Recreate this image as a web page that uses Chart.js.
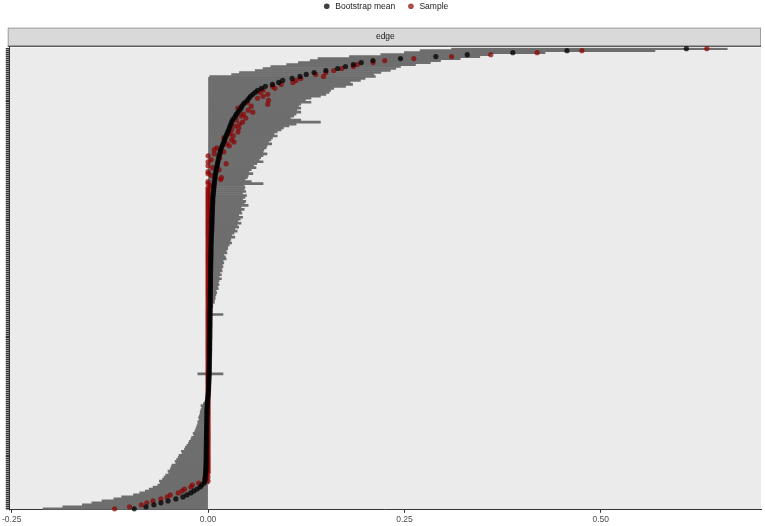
<!DOCTYPE html>
<html>
<head>
<meta charset="utf-8">
<script src="https://cdn.jsdelivr.net/npm/chart.js@4.4.0/dist/chart.umd.min.js"></script>
<style>
  html, body { margin: 0; padding: 0; background: #fff; }
</style>
</head>
<body>
<canvas id="chart" width="765" height="526"></canvas>
<script>
// edges sorted by bootstrap mean, largest at the top
const meanVals = [
  0.609, 0.457, 0.388, 0.33, 0.29, 0.245, 0.21, 0.195, 0.185, 0.175,
  0.165, 0.15, 0.135, 0.125, 0.117, 0.107, 0.095, 0.09, 0.082, 0.073,
  0.068, 0.063, 0.06, 0.057, 0.054, 0.052, 0.05, 0.047, 0.045, 0.043,
  0.042, 0.04, 0.038, 0.036, 0.035, 0.033, 0.031, 0.03, 0.029, 0.028,
  0.027, 0.026, 0.025, 0.024, 0.023, 0.022, 0.021, 0.02, 0.019, 0.018,
  0.017, 0.016, 0.0155, 0.015, 0.014, 0.0135, 0.013, 0.0125, 0.012, 0.0115,
  0.011, 0.0105, 0.01, 0.0095, 0.009, 0.009, 0.0085, 0.008, 0.008, 0.0075,
  0.0075, 0.007, 0.007, 0.0065, 0.0065, 0.006, 0.006, 0.006, 0.0058, 0.0057,
  0.0056, 0.0055, 0.0054, 0.0053, 0.0052, 0.0051, 0.005, 0.005, 0.0049, 0.0048,
  0.0047, 0.0046, 0.0045, 0.0044, 0.0043, 0.0042, 0.0041, 0.004, 0.004, 0.0039,
  0.0038, 0.0038, 0.0037, 0.0037, 0.0036, 0.0036, 0.0035, 0.0035, 0.0034, 0.0034,
  0.0033, 0.0033, 0.0033, 0.0032, 0.0032, 0.0032, 0.0031, 0.0031, 0.0031, 0.003,
  0.003, 0.003, 0.0029, 0.0029, 0.0029, 0.0028, 0.0028, 0.0028, 0.0027, 0.0027,
  0.0027, 0.0026, 0.0026, 0.0026, 0.0025, 0.0025, 0.0025, 0.0024, 0.0024, 0.0024,
  0.0024, 0.0023, 0.0023, 0.0023, 0.0022, 0.0022, 0.0022, 0.0021, 0.0021, 0.0021,
  0.002, 0.002, 0.002, 0.0019, 0.0019, 0.0019, 0.0018, 0.0018, 0.0017, 0.0017,
  0.0016, 0.0016, 0.0015, 0.0015, 0.0014, 0.0013, 0.0012, 0.0011, 0.001, 0.0009,
  0.0008, 0.0007, 0.0006, 0.0004, 0.0002, 0, -0.0003, -0.0006, -0.0009, -0.0011,
  -0.0012, -0.0013, -0.0014, -0.0015, -0.0015, -0.0016, -0.0016, -0.0017, -0.0017, -0.0018,
  -0.0018, -0.0019, -0.0019, -0.002, -0.002, -0.002, -0.0021, -0.0021, -0.0021, -0.0022,
  -0.0022, -0.0022, -0.0023, -0.0023, -0.0023, -0.0024, -0.0024, -0.0024, -0.0025, -0.0025,
  -0.0026, -0.0027, -0.0028, -0.003, -0.0032, -0.0034, -0.0036, -0.0038, -0.004, -0.005,
  -0.008, -0.01, -0.014, -0.018, -0.022, -0.027, -0.032, -0.041, -0.051, -0.06,
  -0.069, -0.079, -0.094
];

const sampleVals = [
  0.635, 0.476, 0.419, 0.36, 0.31, 0.262, 0.225, 0.21, 0.19, 0.185,
  0.17, 0.16, 0.15, 0.137, 0.147, 0.118, 0.112, 0.108, 0.093, 0.082,
  0.085, 0.07, 0.066, 0.076, 0.07, 0.063, 0.077, 0.05, 0.076, 0.055,
  0.038, 0.051, 0.057, 0.045, 0.042, 0.048, 0.036, 0.044, 0.04, 0.034,
  0.039, 0.03, 0.038, 0.028, 0.032, 0.02, 0.03, 0.033, 0.024, 0.027,
  0.011, 0.008, 0.02, 0.008, 0, 0.015, 0.004, 0, 0.023, 0,
  0.006, 0.014, 0, 0, 0.004, 0.017, 0.016, 0, 0, 0.003,
  0, 0, 0, 0, 0, 0, 0, 0, 0, 0,
  0, 0, 0, 0, 0, 0, 0, 0, 0, 0,
  0, 0, 0, 0, 0, 0, 0, 0, 0, 0,
  0, 0, 0, 0, 0, 0, 0, 0, 0, 0,
  0, 0, 0, 0, 0, 0, 0, 0, 0, 0,
  0, 0, 0, 0, 0, 0, 0, 0, 0, 0,
  0, 0, 0, 0, 0, 0, 0, 0, 0, 0,
  0, 0, 0, 0, 0, 0, 0, 0, 0, 0,
  0, 0, 0, 0, 0, 0, 0, 0, 0, 0,
  0, 0, 0, 0, 0, 0, 0, 0, 0, 0,
  0, 0, 0, 0, 0, 0, 0, 0, 0, 0,
  0, 0, 0, 0, 0, 0, 0, 0, 0, 0,
  0, 0, 0, 0, 0, 0, 0, 0, 0, 0,
  0, 0, 0, 0, 0, 0, 0, 0, 0, 0,
  0, 0, 0, 0, 0, -0.002, 0, -0.004, 0, -0.012,
  -0.02, -0.022, -0.03, -0.033, -0.038, -0.048, -0.052, -0.06, -0.07, -0.078,
  -0.085, -0.1, -0.119
];

// bootstrap quantile interval per edge
const loVals = [
  0.31, 0.27, 0.25, 0.22, 0.18, 0.14, 0.13, 0.115, 0.1, 0.08,
  0.07, 0.06, 0.04, 0.03, 0.002, 0, 0, 0, 0, 0,
  0, 0, 0, 0, 0, 0, 0, 0, 0, 0,
  0, 0, 0, 0, 0, 0, 0, 0, 0, 0,
  0, 0, 0, 0, 0, 0, 0, 0, 0, 0,
  0, 0, 0, 0, 0, 0, 0, 0, 0, 0,
  0, 0, 0, 0, 0, 0, 0, 0, 0, 0,
  0, 0, 0, 0, 0, 0, 0, 0, 0, 0,
  0, 0, 0, 0, 0, 0, 0, 0, 0, 0,
  0, 0, 0, 0, 0, 0, 0, 0, 0, 0,
  0, 0, 0, 0, 0, 0, 0, 0, 0, 0,
  0, 0, 0, 0, 0, 0, 0, 0, 0, 0,
  0, 0, 0, 0, 0, 0, 0, 0, 0, 0,
  0, 0, 0, 0, 0, 0, 0, 0, 0, 0,
  0, 0, 0, 0, 0, 0, 0, 0, 0, 0,
  0, 0, 0, 0, 0, 0, 0, 0, 0, 0,
  0, 0, 0, 0, -0.013, 0, 0, 0, 0, 0,
  0, 0, 0, 0, 0, 0, 0, -0.002, -0.004, -0.006,
  -0.009, -0.008, -0.009, -0.01, -0.01, -0.011, -0.012, -0.011, -0.013, -0.013,
  -0.014, -0.015, -0.016, -0.017, -0.019, -0.018, -0.021, -0.022, -0.024, -0.025,
  -0.027, -0.029, -0.03, -0.034, -0.033, -0.037, -0.038, -0.04, -0.042, -0.041,
  -0.046, -0.047, -0.048, -0.051, -0.05, -0.054, -0.056, -0.058, -0.062, -0.061,
  -0.064, -0.07, -0.075, -0.08, -0.087, -0.095, -0.11, -0.12, -0.135, -0.148,
  -0.16, -0.185, -0.21
];

const hiVals = [
  0.661, 0.569, 0.429, 0.359, 0.346, 0.321, 0.296, 0.283, 0.264, 0.245,
  0.239, 0.232, 0.22, 0.211, 0.213, 0.2, 0.194, 0.181, 0.184, 0.175,
  0.16, 0.156, 0.154, 0.15, 0.143, 0.131, 0.124, 0.131, 0.118, 0.115,
  0.118, 0.113, 0.118, 0.112, 0.109, 0.105, 0.118, 0.143, 0.112, 0.103,
  0.096, 0.093, 0.088, 0.084, 0.088, 0.082, 0.08, 0.077, 0.081, 0.075,
  0.074, 0.071, 0.07, 0.075, 0.07, 0.067, 0.065, 0.07, 0.062, 0.058,
  0.061, 0.055, 0.052, 0.057, 0.051, 0.05, 0.047, 0.055, 0.07, 0.046,
  0.047, 0.046, 0.048, 0.044, 0.049, 0.047, 0.044, 0.048, 0.046, 0.051,
  0.042, 0.046, 0.042, 0.043, 0.039, 0.044, 0.041, 0.038, 0.042, 0.037,
  0.039, 0.034, 0.037, 0.033, 0.03, 0.034, 0.029, 0.028, 0.03, 0.027,
  0.025, 0.025, 0.023, 0.024, 0.02, 0.022, 0.023, 0.019, 0.02, 0.018,
  0.019, 0.017, 0.018, 0.015, 0.017, 0.014, 0.017, 0.014, 0.013, 0.014,
  0.012, 0.013, 0.01, 0.011, 0.01, 0.009, 0.009, 0.008, 0.008, 0.006,
  0.006, 0.005, 0.005, 0.004, 0.019, 0.004, 0.004, 0.003, 0.004, 0.003,
  0.004, 0.004, 0.003, 0.004, 0.003, 0.004, 0.003, 0.003, 0.004, 0.003,
  0.003, 0.003, 0.004, 0.003, 0.003, 0.003, 0.003, 0.003, 0.003, 0.003,
  0.003, 0.003, 0.003, 0.002, 0.019, 0.002, 0.002, 0.002, 0.002, 0.002,
  0.002, 0.002, 0.001, 0.001, 0.001, 0.001, 0.001, 0.001, 0.001, 0.001,
  0.001, 0.001, 0.001, 0.001, 0.001, 0.001, 0.001, 0.001, 0.001, 0.001,
  0.001, 0.001, 0.001, 0.001, 0.001, 0.001, 0.001, 0.001, 0.001, 0.001,
  0.001, 0.001, 0.001, 0.001, 0.001, 0.001, 0.001, 0.001, 0.001, 0.001,
  0.001, 0.001, 0.001, 0.001, 0.001, 0.001, 0.001, 0.001, 0.001, 0.001,
  0, 0, 0, 0, 0, 0, 0, 0, 0, 0,
  0, 0, 0
];

const xTicks = [-0.25, 0, 0.25, 0.5];
const edgeNames = meanVals.map((_, i) => 'edge ' + (i + 1));

const FONT = '"Liberation Sans", Arial, sans-serif';

// grey panel + facet strip box, drawn under everything else
const panelPlugin = {
  id: 'panel',
  beforeDraw(chart) {
    const ctx = chart.ctx;
    const a = chart.chartArea;
    ctx.save();
    ctx.fillStyle = '#ffffff';
    ctx.fillRect(0, 0, chart.width, chart.height);
    ctx.fillStyle = '#ebebeb';
    ctx.fillRect(a.left, a.top, a.right - a.left, a.bottom - a.top);

    const stripTop = a.top - 20;
    const stripH = 18;
    ctx.fillStyle = '#d9d9d9';
    ctx.fillRect(a.left - 2, stripTop, a.right - a.left + 2, stripH);
    ctx.strokeStyle = '#a0a0a0';
    ctx.lineWidth = 1;
    ctx.strokeRect(a.left - 1.5, stripTop + 0.5, a.right - a.left + 1, stripH);
    ctx.strokeStyle = '#333333';
    ctx.beginPath();
    ctx.moveTo(a.left - 2, a.top - 1.5);
    ctx.lineTo(a.right, a.top - 1.5);
    ctx.stroke();
    ctx.restore();
  }
};

new Chart(document.getElementById('chart'), {
  type: 'bar',
  data: {
    labels: edgeNames,
    datasets: [
      {
        type: 'bar',
        label: 'CI',
        data: loVals.map((lo, i) => [lo, hiVals[i]]),
        backgroundColor: 'rgb(110,110,110)',
        borderWidth: 0,
        borderSkipped: false,
        barPercentage: 1,
        categoryPercentage: 1,
        order: 3
      },
      {
        type: 'line',
        label: 'Bootstrap mean',
        data: meanVals,
        indexAxis: 'y',
        showLine: false,
        pointRadius: 2.6,
        pointBorderWidth: 0,
        pointBackgroundColor: 'rgba(0,0,0,0.75)',
        backgroundColor: '#000000',
        borderColor: '#000000',
        order: 1
      },
      {
        type: 'line',
        label: 'Sample',
        data: sampleVals,
        indexAxis: 'y',
        showLine: false,
        pointRadius: 2.6,
        pointBorderWidth: 0,
        pointBackgroundColor: 'rgba(139,0,0,0.7)',
        backgroundColor: '#990000',
        borderColor: '#990000',
        order: 2
      }
    ]
  },
  options: {
    responsive: false,
    animation: false,
    indexAxis: 'y',
    layout: { padding: { top: 0, left: 0, right: 1, bottom: -1 } },
    plugins: {
      legend: {
        position: 'top',
        fullSize: false,
        labels: {
          filter: (item) => item.text !== 'CI',
          // a little extra room after the first key, as in the original
          generateLabels: (chart) => Chart.defaults.plugins.legend.labels.generateLabels(chart)
            .map(item => item.text === 'Bootstrap mean' ? Object.assign(item, { text: 'Bootstrap mean    ' }) : item),
          usePointStyle: true,
          pointStyle: 'circle',
          boxWidth: 9,
          boxHeight: 4,
          padding: 2,
          color: '#1a1a1a',
          font: { family: FONT, size: 8.5 }
        }
      },
      title: {
        display: true,
        text: 'edge',
        position: 'top',
        weight: 500,
        fullSize: false,
        color: '#1a1a1a',
        font: { family: FONT, size: 8.5, weight: 'normal' },
        padding: { top: 11, bottom: 6 }
      },
      tooltip: { enabled: false }
    },
    scales: {
      x: {
        type: 'linear',
        min: -0.2525,
        max: 0.704,
        afterBuildTicks: (scale) => { scale.ticks = xTicks.map(v => ({ value: v })); },
        ticks: {
          callback: (v) => Number(v).toFixed(2),
          color: '#4d4d4d',
          padding: 2,
          maxRotation: 0,
          font: { family: FONT, size: 8.5 }
        },
        grid: { drawOnChartArea: false, tickLength: 3, color: '#333333' },
        border: { color: '#333333' }
      },
      y: {
        type: 'category',
        offset: true,
        ticks: { display: false },
        grid: { drawOnChartArea: false, tickLength: 4, lineWidth: 1.5, color: '#333333', offset: false },
        border: { color: '#333333' }
      }
    }
  },
  plugins: [panelPlugin]
});
</script>
</body>
</html>
